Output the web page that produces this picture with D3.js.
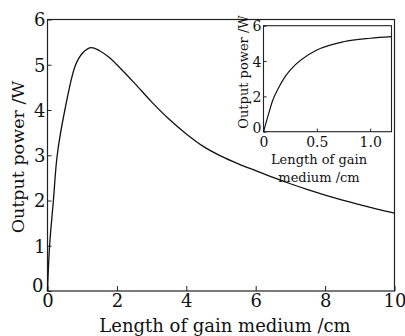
<!DOCTYPE html>
<html>
<head>
<meta charset="utf-8">
<script src="https://cdn.jsdelivr.net/npm/d3@7"></script>
<style>
  body { margin: 0; background: #fff; }
  svg text { font-family: "DejaVu Serif", "Liberation Serif", serif; fill: #111; }
</style>
</head>
<body>
<svg id="chart" width="405" height="336"></svg>
<script>
// main curve: output power vs gain-medium length
const lengthCm = [0, 0.06, 0.17, 0.28, 0.5, 0.8, 1.0, 1.25, 1.5, 1.8, 2.0, 2.5, 3.0, 3.5, 4.0, 4.5, 5.0, 5.5, 6.0, 6.5, 7.0, 7.5, 8.0, 8.5, 9.0, 9.5, 10];
const powerW = [0, 1.0, 2.0, 3.0, 4.0, 4.98, 5.25, 5.38, 5.31, 5.15, 5.00, 4.60, 4.18, 3.80, 3.47, 3.19, 2.98, 2.81, 2.66, 2.51, 2.37, 2.24, 2.12, 2.01, 1.91, 1.81, 1.72];

// inset (zoom of the first 1.2 cm)
const insetLength = [0, 0.05, 0.1, 0.25, 0.5, 0.75, 1.0, 1.2];
const insetPower = [0, 1.05, 1.98, 3.49, 4.62, 5.09, 5.29, 5.38];

const xTicks = [0, 2, 4, 6, 8, 10];
const yTicks = [0, 1, 2, 3, 4, 5, 6];
const insetXTicks = [0, 0.5, 1.0];
const insetYTicks = [0, 2, 4, 6];

const svg = d3.select("#chart");
const ink = "#222";

// ---- main plot ----
const m = { left: 47.5, right: 394.5, top: 19.5, bottom: 291 };
const x = d3.scaleLinear().domain([0, 10]).range([m.left, m.right]);
const y = d3.scaleLinear().domain([0, 6]).range([m.bottom, m.top]);

const main = svg.append("g");

main.append("g")
    .attr("transform", `translate(0,${m.bottom})`)
    .call(d3.axisBottom(x).tickValues(xTicks).tickSize(-5).tickPadding(8).tickFormat(d3.format("d")))
    .call(g => g.select(".domain").remove())
    .call(g => g.selectAll("line").attr("stroke", ink))
    .call(g => g.selectAll("text").attr("font-size", 18).attr("dy", "0.71em").attr("y", 3));

main.append("g")
    .attr("transform", `translate(${m.left},0)`)
    .call(d3.axisLeft(y).tickValues(yTicks).tickSize(-4).tickPadding(7).tickFormat(d3.format("d")))
    .call(g => g.select(".domain").remove())
    .call(g => g.selectAll("line").attr("stroke", ink))
    .call(g => g.selectAll("text").attr("font-size", 18)
        .attr("x", d => d === 0 ? -4 : -2)
        .attr("dy", d => d === 0 ? "0.02em" : "0.36em"));

main.append("rect")
    .attr("x", m.left).attr("y", m.top)
    .attr("width", m.right - m.left).attr("height", m.bottom - m.top)
    .attr("fill", "none").attr("stroke", ink).attr("stroke-width", 1.2);

const line = d3.line()
    .x(d => x(d[0]))
    .y(d => y(d[1]))
    .curve(d3.curveCatmullRom.alpha(0.5));

main.append("path")
    .datum(d3.zip(lengthCm, powerW))
    .attr("d", line)
    .attr("fill", "none").attr("stroke", "#111").attr("stroke-width", 1.3);

svg.append("text")
    .attr("x", 225).attr("y", 332)
    .attr("text-anchor", "middle").attr("font-size", 18)
    .text("Length of gain medium /cm");

svg.append("text")
    .attr("transform", "translate(24,157) rotate(-90)")
    .attr("text-anchor", "middle").attr("font-size", 17.5)
    .text("Output power /W");

// ---- inset ----
const n = { left: 263.5, right: 391.5, top: 25.7, bottom: 131.7 };
const xi = d3.scaleLinear().domain([0, 1.2]).range([n.left, n.right]);
const yi = d3.scaleLinear().domain([0, 6]).range([n.bottom, n.top]);

const inset = svg.append("g");

inset.append("rect")
    .attr("x", n.left).attr("y", n.top)
    .attr("width", n.right - n.left).attr("height", n.bottom - n.top)
    .attr("fill", "#fff");

inset.append("g")
    .attr("transform", `translate(0,${n.bottom})`)
    .call(d3.axisBottom(xi).tickValues(insetXTicks).tickSize(-3).tickPadding(5)
        .tickFormat(d => d === 0 ? "0" : d3.format(".1f")(d)))
    .call(g => g.select(".domain").remove())
    .call(g => g.selectAll("line").attr("stroke", ink))
    .call(g => g.selectAll("text").attr("font-size", 14).attr("dy", "0.71em").attr("y", 5));

inset.append("g")
    .attr("transform", `translate(${n.left},0)`)
    .call(d3.axisLeft(yi).tickValues(insetYTicks).tickSize(-3).tickPadding(4).tickFormat(d3.format("d")))
    .call(g => g.select(".domain").remove())
    .call(g => g.selectAll("line").attr("stroke", ink))
    .call(g => g.selectAll("text").attr("font-size", 14).attr("x", -2)
        .attr("dy", d => d === 0 ? "0.05em" : "0.36em"));

inset.append("rect")
    .attr("x", n.left).attr("y", n.top)
    .attr("width", n.right - n.left).attr("height", n.bottom - n.top)
    .attr("fill", "none").attr("stroke", ink).attr("stroke-width", 1.1);

const insetLine = d3.line()
    .x(d => xi(d[0]))
    .y(d => yi(d[1]))
    .curve(d3.curveCatmullRom.alpha(0.5));

inset.append("path")
    .datum(d3.zip(insetLength, insetPower))
    .attr("d", insetLine)
    .attr("fill", "none").attr("stroke", "#111").attr("stroke-width", 1.2);

inset.append("text")
    .attr("transform", "translate(248,72) rotate(-90)")
    .attr("text-anchor", "middle").attr("font-size", 13)
    .text("Output power /W");

inset.append("text")
    .attr("x", 319).attr("y", 164)
    .attr("text-anchor", "middle").attr("font-size", 13)
    .text("Length of gain");

inset.append("text")
    .attr("x", 319).attr("y", 182)
    .attr("text-anchor", "middle").attr("font-size", 13)
    .text("medium /cm");
</script>
</body>
</html>
